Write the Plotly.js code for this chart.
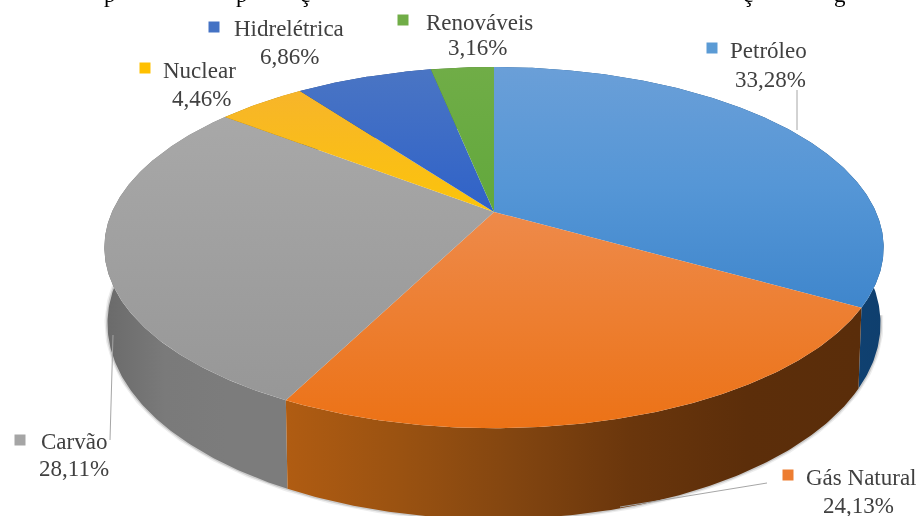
<!DOCTYPE html>
<html>
<head>
<meta charset="utf-8">
<script src="https://cdn.plot.ly/plotly-3.0.1.min.js"></script>
<style>
html,body{margin:0;padding:0;background:#fff;overflow:hidden}
#chart{width:922px;height:516px;filter:blur(0.5px)}
</style>
</head>
<body>
<div id="chart"></div>
<script>
// Data
const categories = ['Petróleo', 'Gás Natural', 'Carvão', 'Nuclear', 'Hidrelétrica', 'Renováveis'];
const shares = [33.28, 24.13, 28.11, 4.46, 6.86, 3.16];

// Styles: colours listed from the bottom of the surface to the top, walls from left to right
const topColors = [['#3f86cc', '#5596d6', '#6a9fd8'], ['#ec7216', '#ee8a4a'], ['#979797', '#a8a8a8'],
                   ['#fcc40a', '#f7b52a'], ['#2f62c8', '#4a75c4'], ['#62a83c', '#70ad47']];
const sideColors = [['#17558f', '#0f3f6e'], ['#b05c12', '#9a5211', '#824510', '#6a360c', '#5c2e0a', '#5a2d0a'],
                    ['#6a6a6a', '#7a7a7a', '#7c7c7c', '#7c7c7c'],
                    ['#a07a08', '#a07a08'], ['#27487f', '#27487f'], ['#4a7530', '#4a7530']];
const keyColors = ['#5b9bd5', '#ed7d31', '#a5a5a5', '#ffc000', '#4472c4', '#70ad47'];

// Perspective geometry of the tilted disc, in page pixels
const cx = 494, cy = 212, rx = 382, ry = 173.6, persp = 0.197, depth = 73;
const nameX = [768, 861, 74, 199, 289, 479];
const nameY = [50, 477, 441, 70, 28, 22];
const valueX = [770, 858, 74, 201, 289, 477];
const valueY = [79, 505, 468, 98, 56, 47];
const keyX = [712, 788, 20, 145, 214, 403];
const keyY = [48, 475, 440, 68, 27, 20];

// Fragments of the cut-off line at the very top of the picture
const cutText = ['p', 'p', 'ç', 'ç', 'g'];
const cutX = [110, 242, 305, 748, 840];

function rimPoint(theta, bottom) {
  const s = Math.sin(theta), c = Math.cos(theta), w = 1 + persp * c;
  const x = cx + rx * s / w, y = cy - ry * c / w;
  return bottom ? [cx + (x - cx) * 0.992, y + depth / w] : [x, y];
}
function arc(a, b, bottom) {
  const n = Math.max(2, Math.ceil(Math.abs(b - a) / 0.01)), pts = [];
  for (let i = 0; i <= n; i++) pts.push(rimPoint(a + (b - a) * i / n, bottom));
  return pts;
}

const total = shares.reduce((p, v) => p + v, 0);
const edges = [0];
shares.forEach(v => edges.push(edges[edges.length - 1] + v / total * 2 * Math.PI));

const traces = [];
function poly(pts, colors, dir) {
  traces.push({
    type: 'scatter', mode: 'lines', x: pts.map(p => p[0]), y: pts.map(p => p[1]),
    fill: 'toself', line: {width: 0, color: colors[0]}, hoverinfo: 'skip', showlegend: false,
    fillgradient: {type: dir, colorscale: colors.map((c, k) => [k / (colors.length - 1), c])}
  });
}

// soft shadow along the lower rim
const rimLow = arc(Math.PI * 0.55, Math.PI * 1.5, true);
[[6, 'rgba(0,0,0,0.07)'], [3, 'rgba(0,0,0,0.14)']].forEach(([w, col]) => traces.push({
  type: 'scatter', mode: 'lines', x: rimLow.map(p => p[0]), y: rimLow.map(p => p[1]),
  line: {width: w, color: col}, hoverinfo: 'skip', showlegend: false
}));

// side walls, back to front
[3, 4, 5, 0, 2, 1].forEach(i => {
  const pts = arc(edges[i], edges[i + 1], false).concat(arc(edges[i + 1], edges[i], true));
  poly(pts, sideColors[i], 'horizontal');
});

// top surface
categories.forEach((name, i) => {
  const pts = [[cx, cy]].concat(arc(edges[i], edges[i + 1], false));
  pts.push([cx, cy]);
  poly(pts, topColors[i], 'vertical');
});

const font = {family: 'Liberation Serif', size: 23, color: '#404040'};
const annotations = [];
categories.forEach((name, i) => {
  annotations.push({x: nameX[i], y: nameY[i], xref: 'x', yref: 'y', showarrow: false, font: font, text: name});
  annotations.push({x: valueX[i], y: valueY[i], xref: 'x', yref: 'y', showarrow: false, font: font,
    text: shares[i].toFixed(2).replace('.', ',') + '%'});
});
cutText.forEach((t, i) => annotations.push({
  x: cutX[i], y: 0, xref: 'x', yref: 'y', xanchor: 'center', yanchor: 'middle', yshift: 6,
  showarrow: false, text: t, font: {family: 'Liberation Serif', size: 23, color: '#000000'}
}));

const leader = (x0, y0, x1, y1) => ({type: 'line', xref: 'x', yref: 'y', x0, y0, x1, y1,
  line: {color: '#a6a6a6', width: 1}});
const shapes = [leader(797, 90, 797, 130), leader(113, 335, 110, 440), leader(767, 483, 620, 507)];
keyColors.forEach((col, i) => shapes.push({
  type: 'rect', xref: 'x', yref: 'y', x0: keyX[i] - 5.5, x1: keyX[i] + 5.5, y0: keyY[i] - 5.5, y1: keyY[i] + 5.5,
  fillcolor: col, line: {width: 0}
}));

Plotly.newPlot('chart', traces, {
  width: 922, height: 516, margin: {l: 0, r: 0, t: 0, b: 0},
  paper_bgcolor: '#ffffff', plot_bgcolor: '#ffffff', showlegend: false,
  xaxis: {range: [0, 922], visible: false, fixedrange: true},
  yaxis: {range: [516, 0], visible: false, fixedrange: true},
  annotations: annotations, shapes: shapes
}, {displayModeBar: false, staticPlot: true});
</script>
</body>
</html>
